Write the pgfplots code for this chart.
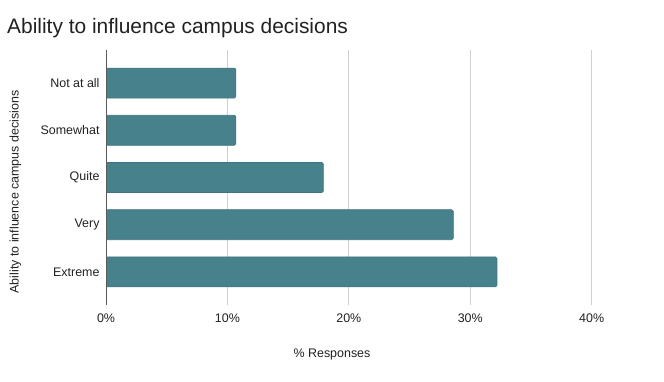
\documentclass[border=0pt]{standalone}
\usepackage{fontspec}
\setmainfont{Liberation Sans}
\usepackage{pgfplots}
\pgfplotsset{compat=1.18}
\definecolor{barc}{RGB}{70,129,140}
\definecolor{barb}{RGB}{62,116,126}
\definecolor{gridc}{RGB}{208,208,208}
\definecolor{axc}{RGB}{90,90,90}
\definecolor{txt}{RGB}{33,33,33}
\begin{document}
\begin{tikzpicture}[x=1bp,y=1bp]
\useasboundingbox (0,0) rectangle (664,381);
\begin{axis}[
  at={(106bp,76bp)}, anchor=south west,
  scale only axis, width=485.7bp, height=255bp,
  xmin=0, xmax=40, ymin=-0.7, ymax=4.7,
  xbar, bar width=30bp,
  ytick={0,1,2,3,4}, yticklabels={Extreme,Very,Quite,Somewhat,Not at all},
  xtick={0,10,20,30,40},
  xticklabel={\pgfmathprintnumber{\tick}\%},
  /pgf/number format/assume math mode=true,
  xmajorgrids, grid style={gridc, line width=0.9pt},
  major tick length=0pt,
  axis lines*=left, axis line style={-},
  x axis line style={draw=none},
  y axis line style={draw=none},
  yticklabel style={font=\fontsize{12.5}{14}\selectfont, text=txt, xshift=-3bp},
  xticklabel style={font=\fontsize{12.5}{14}\selectfont, text=txt, yshift=-5.5bp},
]
\addplot[fill=barc, draw=barb, line width=0.6pt, rounded corners=1.5bp] coordinates {
  (32.2,0) (28.6,1) (17.9,2) (10.7,3) (10.7,4)
};
\draw[axc, line width=1.2pt] (axis cs:0,-0.7) -- (axis cs:0,4.7);
\end{axis}
\node[anchor=base west, font=\fontsize{21}{24}\selectfont, text=txt, inner sep=0] at (7,348) {Ability to influence campus decisions};
\node[anchor=base, font=\fontsize{12.5}{14}\selectfont, text=txt, inner sep=0] at (332,23.5) {\% Responses};
\node[anchor=center, rotate=90, font=\fontsize{12.5}{14}\selectfont, text=txt, inner sep=0] at (15.5,189) {Ability to influence campus decisions};
\end{tikzpicture}
\end{document}
